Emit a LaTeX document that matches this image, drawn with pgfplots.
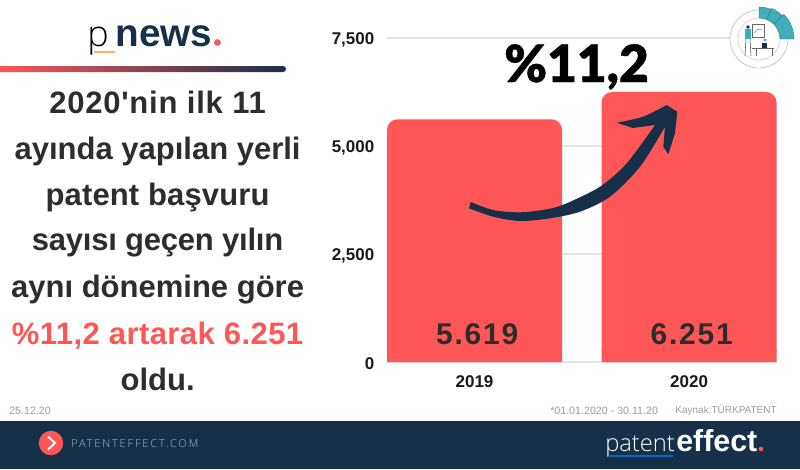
\documentclass[border=0pt]{standalone}
\usepackage{fontspec}
\usepackage{pgfplots}
\pgfplotsset{compat=1.18}
\setmainfont{Liberation Sans}
\newfontfamily\heavyfont[FakeBold=0.8]{Lato Black}
\newfontfamily\lightfont{Open Sans Light}
\newfontfamily\leadfont{Liberation Sans}
\newfontfamily\valfont[LetterSpace=6]{Liberation Sans}
\newfontfamily\webfont[LetterSpace=17]{Open Sans Light}
\definecolor{brandred}{HTML}{FF5757}
\definecolor{navy}{HTML}{17304A}
\definecolor{ink}{HTML}{2D2D2D}
\definecolor{gridgray}{HTML}{E4E4E4}
\definecolor{teal}{HTML}{3FAEBB}
\definecolor{smallgray}{HTML}{9A9A9A}
% colour, baseline, letter spacing, text
\newcommand{\leadline}[4]{\node[anchor=base,font=\leadfont\bfseries\fontsize{23.25}{25}\selectfont\addfontfeatures{LetterSpace=#3},text=#1] at (157.6,#2) {#4};}
\newcommand{\ringseg}[3]{\fill[teal,draw=navy!60!teal,line width=0.2pt] (759,39) ++(#1:21) arc[start angle=#1,end angle=#2,radius=21] -- ++(#2:#3-21) arc[start angle=#2,end angle=#1,radius=#3] -- cycle;}
\begin{document}
\begin{tikzpicture}
\begin{axis}[
    at={(290.25pt,-271.5pt)},anchor=south west,
    scale only axis,width=292.5pt,height=243pt,
    xmin=-0.408,xmax=1.41,ymin=0,ymax=7500,
    clip=false,
    axis line style={draw=none},
    tick style={draw=none},
    ymajorgrids,
    grid style={gridgray,line width=1.1pt},
    ytick={0,2500,5000,7500},
    xtick={0,1},xticklabels={2019,2020},
    scaled y ticks=false,
    /pgf/number format/assume math mode=true,
    tick label style={font=\bfseries\fontsize{12.75}{14}\selectfont,text=black!90},
    yticklabel style={xshift=-6pt,yshift=-1.2pt},
    xticklabel style={yshift=-6.5pt},
  ]
  \addplot[ybar,bar width=131.25pt,bar shift=0pt,fill=brandred,draw=none,rounded corners=8pt]
    coordinates {(0,5619) (1,6251)};
  % square off the foot of each bar, only the top corners are round
  \addplot[ybar,bar width=131.25pt,bar shift=0pt,fill=brandred,draw=none,forget plot]
    coordinates {(0,280) (1,280)};
  \node[xshift=2pt,font=\valfont\bfseries\fontsize{22.5}{24}\selectfont,text=ink] at (axis cs:0,648) {5.619};
  \node[xshift=2pt,font=\valfont\bfseries\fontsize{22.5}{24}\selectfont,text=ink] at (axis cs:1,648) {6.251};
\end{axis}
\begin{scope}[x=0.75pt,y=-0.75pt]
  % arrow
  \fill[navy] plot[smooth,tension=.5] coordinates {(470.7,202) (493,210) (520,212.3) (546.7,209.3) (565,204) (600,186.7) (626.7,163.3) (655,125)}
    -- (633,128) -- (616.7,122.7)
    -- plot[smooth,tension=.5] coordinates {(616.7,122.7) (643,116.7) (666.7,105)}
    -- (677.3,111.7) -- (675,133.3) -- (668.3,154.3) -- (663.3,146.7) -- (665,126.7)
    -- plot[smooth,tension=.5] coordinates {(665,126.7) (640,166.7) (610,196.7) (580,211.7) (550,218.3) (520,221) (493.3,216.7) (469,208.3)}
    -- cycle;
  \node[anchor=base,font=\heavyfont\fontsize{38.5}{40}\selectfont,text=black] at (576.5,82) {\%11,2};
  % left column
  \leadline{ink}{113.3}{2.5}{2020'nin ilk 11}
  \leadline{ink}{159}{0}{ayında yapılan yerli}
  \leadline{ink}{205.7}{0.5}{patent başvuru}
  \leadline{ink}{250}{-0.8}{sayısı geçen yılın}
  \leadline{ink}{297.3}{0}{aynı dönemine göre}
  \leadline{brandred}{344.3}{1.4}{\%11,2 artarak 6.251}
  \leadline{ink}{390}{0}{oldu.}
  % header
  \node[anchor=base,font=\lightfont\fontsize{27}{28}\selectfont,text=black] at (98,46) {p};
  \node[anchor=base west,inner sep=0pt,font=\bfseries\fontsize{29}{30}\selectfont,text=navy] at (115.5,46) {news};
  \fill[brandred] (217.5,42.5) circle (3.4);
  \draw[orange!60,line width=0.8pt] (94,52) -- (115,52);
  \shade[left color=brandred,right color=navy,rounded corners=2.2pt] (-3,66) rectangle (286,72);
  % small texts
  \node[anchor=base west,inner sep=0pt,font=\fontsize{8}{9}\selectfont,text=smallgray] at (9,414.5) {25.12.20};
  \node[anchor=base west,inner sep=0pt,font=\fontsize{8}{9}\selectfont,text=smallgray] at (550,414) {*01.01.2020 - 30.11.20};
  \node[anchor=base east,inner sep=0pt,font=\fontsize{7.5}{9}\selectfont,text=smallgray] at (777,413) {Kaynak:TÜRKPATENT};
  % footer
  \fill[navy] (0,420.5) rectangle (800,469);
  \fill[brandred] (51,443) circle (12.2);
  \draw[white,line width=1.5pt] (48,436.5) -- (55,443) -- (48,449.5);
  \node[anchor=base west,inner sep=0pt,font=\webfont\fontsize{8.25}{10}\selectfont,text=white!65!navy] at (71,447) {PATENTEFFECT.COM};
  \node[anchor=base west,inner sep=0pt,font=\lightfont\fontsize{17.8}{24}\selectfont,text=white] at (605,451) {patent};
  \node[anchor=base west,inner sep=0pt,font=\bfseries\fontsize{22.8}{24}\selectfont,text=white] at (676,451) {effect};
  \fill[brandred] (761,449) circle (2.3);
  \draw[blue!50!cyan!70!navy,line width=1pt] (610,456) -- (673,456);
  % round badge, y runs downward here so the angles are negative
  \draw[black!35,line width=0.3pt,fill=white] (759,39) circle (29);
  \draw[black!25,line width=0.3pt] (759,39) circle (21);
  \ringseg{-90}{-68}{32}
  \ringseg{-68}{-45}{33}
  \ringseg{-45}{0}{35}
  % desk scene in the badge
  \fill[teal] (745,29) rectangle (751,39);
  \fill[navy] (748,27) circle (1.8);
  \draw[black!70,line width=0.4pt] (746,39) -- (745,56) (750,39) -- (751,56);
  \draw[black!60,line width=0.4pt] (752,24) rectangle (764,37);
  \draw[teal,line width=0.5pt] (754,33) -- (758,29) -- (762,30);
  \fill[navy] (762,43) rectangle (767,48);
  \fill[teal] (765,40) circle (1.6);
  \draw[black!60,line width=0.4pt] (752,48) -- (774,48) (756,48) -- (756,56) (772,48) -- (772,56);
\end{scope}
% page stays exactly the frame, the gradient bar runs off its left edge
\pgfresetboundingbox
\path[use as bounding box] (0pt,0pt) rectangle (600pt,-351.75pt);
\end{tikzpicture}
\end{document}
